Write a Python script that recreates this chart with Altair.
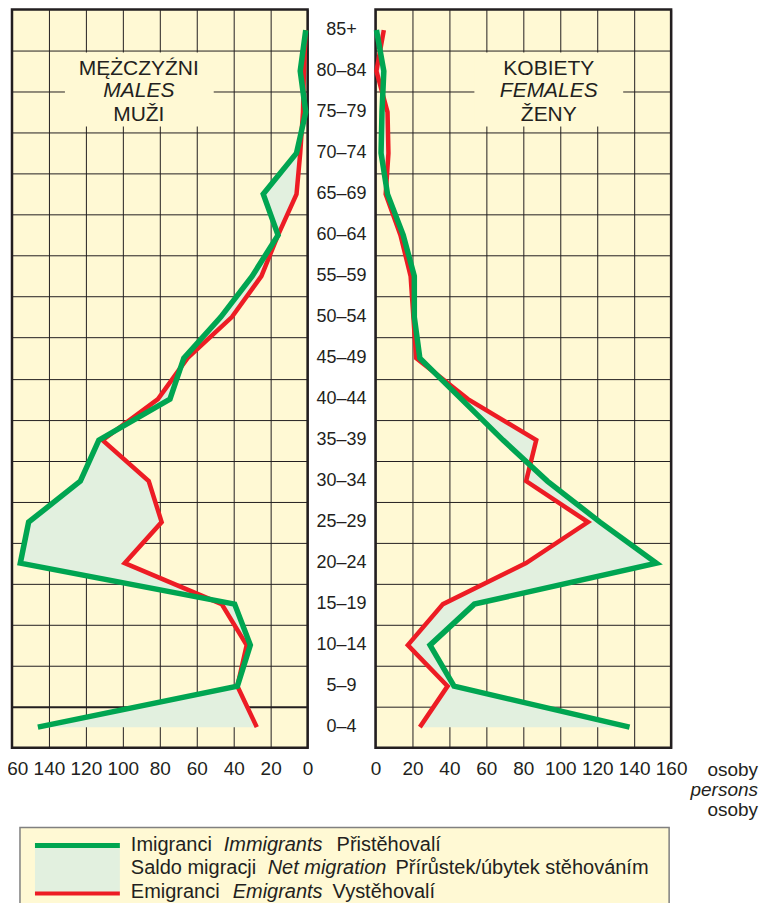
import altair as alt
import pandas as pd

# ---------------- data ----------------
ages = ["0–4", "5–9", "10–14", "15–19", "20–24", "25–29", "30–34", "35–39",
        "40–44", "45–49", "50–54", "55–59", "60–64", "65–69", "70–74",
        "75–79", "80–84", "85+"]
male_immigrants = [146, 38, 31, 39.5, 155.5, 151, 123, 113, 74.5, 67, 47, 30,
                   16, 24, 6, 1, 4, 1]
male_emigrants = [27.5, 38, 33, 46.5, 99, 79, 86, 111, 81, 65, 41, 25,
                  16, 6, 4, 2.5, 2, 1]
female_immigrants = [137.5, 42.5, 29.5, 53.5, 152, 121.5, 93, 69, 46.5, 24, 21,
                     21, 15, 6.5, 3, 3.5, 4.5, 0.5]
female_emigrants = [24, 39, 17.5, 36.5, 81.5, 115, 81.5, 87, 50, 22, 20.5,
                    19, 13.5, 5.5, 7, 6.5, 0.5, 4.5]
x_ticks = [0, 20, 40, 60, 80, 100, 120, 140, 160]
male_title = ["MĘŻCZYŹNI", "MALES", "MUŽI"]
female_title = ["KOBIETY", "FEMALES", "ŽENY"]
unit_labels = ["osoby", "persons", "osoby"]
legend_labels = [
    ["Imigranci", "Immigrants", "Přistěhovalí"],
    ["Saldo migracji", "Net migration", "Přírůstek/úbytek stěhováním"],
    ["Emigranci", "Emigrants", "Vystěhovalí"],
]

# ---------------- style ----------------
FONT = "Liberation Sans"
INK = "#231f20"
BG = "#fff9d4"
GREEN = "#00a551"
RED = "#ed1c24"
FILL = "#e2f0df"
W, H = 296, 739

one = pd.DataFrame({"k": [0]})


def legend_layers(y0):
    leg = []
    leg.append(alt.Chart(one).mark_rect(fill=BG, stroke="#808080", strokeWidth=1.5).encode(
        x=alt.value(8), x2=alt.value(658), y=alt.value(y0), y2=alt.value(y0 + 100)))
    leg.append(alt.Chart(one).mark_rect(color=FILL).encode(
        x=alt.value(23), x2=alt.value(108), y=alt.value(y0 + 18), y2=alt.value(y0 + 66)))
    leg.append(alt.Chart(one).mark_rule(color=GREEN, strokeWidth=5).encode(
        x=alt.value(23), x2=alt.value(108), y=alt.value(y0 + 18)))
    leg.append(alt.Chart(one).mark_rule(color=RED, strokeWidth=4).encode(
        x=alt.value(23), x2=alt.value(108), y=alt.value(y0 + 66)))
    seg_x = [[119, 212, 325], [119, 256, 384], [119, 221, 321]]
    row_y = [18, 41, 65]
    for r, row in enumerate(legend_labels):
        for j, t in enumerate(row):
            leg.append(alt.Chart(one).mark_text(
                fontSize=20, font=FONT, color=INK, align="left", baseline="middle",
                fontStyle="italic" if j == 1 else "normal").encode(
                x=alt.value(seg_x[r][j]), y=alt.value(y0 + row_y[r]),
                text=alt.value(t)))
    return leg


def panel(imm, emi, reverse, title, title_cx, box_x, left_side):
    df = pd.DataFrame({"idx": list(range(len(ages))), "age": ages,
                       "imm": imm, "emi": emi})
    xs = alt.Scale(domain=[0, 160], reverse=reverse, nice=False, zero=False)
    xa = alt.Axis(values=x_ticks, grid=True, gridColor=INK, gridWidth=1,
                  domain=False, ticks=False, tickSize=0, labelFontSize=19,
                  labelColor=INK, labelFont=FONT, labelPadding=12,
                  labelFlush=False, labelOverlap=False, title=None)
    ys = alt.Scale(domain=[-0.5, len(ages) - 0.5], nice=False, zero=False)
    gw = {"condition": {"test": "datum.value == 0.5", "value": 2}, "value": 1} if left_side else 1
    ya = alt.Axis(values=[i + 0.5 for i in range(len(ages) - 1)], grid=True,
                  gridColor=INK, gridWidth=gw, labels=False, ticks=False,
                  domain=False, title=None)
    Y = alt.Y("idx:Q", scale=ys, axis=ya)
    base = alt.Chart(df)
    layers = []
    layers.append(base.mark_area(orient="horizontal", color=FILL).encode(
        x=alt.X("imm:Q", scale=xs, axis=xa), x2="emi:Q", y=Y))
    layers.append(base.mark_line(color=RED, strokeWidth=4.5).encode(
        x=alt.X("emi:Q", scale=xs, axis=xa), y=Y, order="idx:Q"))
    layers.append(base.mark_line(color=GREEN, strokeWidth=5.5).encode(
        x=alt.X("imm:Q", scale=xs, axis=xa), y=Y, order="idx:Q"))
    # title box & title text
    layers.append(alt.Chart(one).mark_rect(color=BG).encode(
        x=alt.value(box_x[0]), x2=alt.value(box_x[1]),
        y=alt.value(43), y2=alt.value(117)))
    for i, t in enumerate(title):
        layers.append(alt.Chart(one).mark_text(
            fontSize=21, font=FONT, color=INK, align="center", baseline="middle",
            fontStyle="italic" if i == 1 else "normal").encode(
            x=alt.value(title_cx), y=alt.value([59, 82, 106][i]),
            text=alt.value(t)))
    if left_side:
        layers.append(base.mark_text(fontSize=18, font=FONT, color=INK,
                                     align="center", baseline="middle").encode(
            x=alt.value(W + 34), y=Y, text="age:N"))
        layers.extend(legend_layers(H + 80))
    else:
        for i, t in enumerate(unit_labels):
            layers.append(alt.Chart(one).mark_text(
                fontSize=19, font=FONT, color=INK, align="right",
                baseline="middle",
                fontStyle="italic" if i == 1 else "normal").encode(
                x=alt.value(383), y=alt.value(H + 22 + 20 * i),
                text=alt.value(t)))
    return alt.layer(*layers).properties(width=W, height=H)


left = panel(male_immigrants, male_emigrants, True, male_title, 127, (53, 202), True)
right = panel(female_immigrants, female_emigrants, False, female_title, 173.5, (99, 248), False)

chart = alt.hconcat(left, right, spacing=68, bounds="flush").properties(
    padding={"left": -14, "top": -1, "right": 5, "bottom": 0}
).configure(font=FONT).configure_view(stroke=INK, strokeWidth=2.5, fill=BG)

chart.save("out.html", embed_options={"renderer": "svg", "actions": False})
